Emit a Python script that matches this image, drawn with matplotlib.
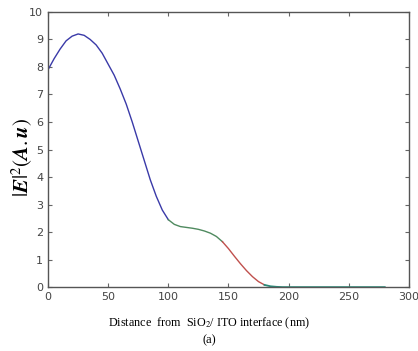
import numpy as np
import matplotlib.pyplot as plt

plt.rcParams['mathtext.fontset'] = 'stix'

# Field intensity profile, split in the coloured segments
x_blue = [0, 5, 10, 15, 20, 25, 30, 35, 40, 45, 50, 55, 60, 65, 70, 75, 80, 85, 90, 95, 100]
y_blue = [7.9, 8.3, 8.65, 8.95, 9.12, 9.2, 9.15, 9.0, 8.8, 8.5, 8.1, 7.7, 7.2, 6.65, 6.0, 5.3, 4.6, 3.9, 3.3, 2.8, 2.45]
x_green = [100, 105, 110, 115, 120, 125, 130, 135, 140, 145]
y_green = [2.45, 2.28, 2.2, 2.17, 2.14, 2.1, 2.04, 1.96, 1.84, 1.65]
x_red = [145, 150, 155, 160, 165, 170, 175, 180]
y_red = [1.65, 1.4, 1.12, 0.85, 0.6, 0.38, 0.2, 0.08]
x_teal = [180, 185, 190, 195, 200, 220, 240, 260, 280]
y_teal = [0.08, 0.03, 0.01, 0.0, 0.0, 0.0, 0.0, 0.0, 0.0]

fig = plt.figure(figsize=(4.18, 3.51), dpi=100)
ax = fig.add_axes([0.115, 0.182, 0.863, 0.784])

ax.plot(x_blue, y_blue, color='#3a3aa8', lw=1.0)
ax.plot(x_green, y_green, color='#4f8a5f', lw=1.0)
ax.plot(x_red, y_red, color='#c0504d', lw=1.0)
ax.plot(x_teal, y_teal, color='#2a8a78', lw=1.3)

ax.set_xlim(0, 300)
ax.set_ylim(0, 10)
ax.set_xticks(np.arange(0, 301, 50))
ax.set_yticks(np.arange(0, 11, 1))
ax.tick_params(direction='in', top=True, right=True, length=3, width=0.8,
               labelsize=8, colors='#666666', labelcolor='#444444')
for s in ax.spines.values():
    s.set_color('#555555')
    s.set_linewidth(1.0)

ax.set_ylabel(r'$|\boldsymbol{E}|^2(\boldsymbol{A.u})$', fontsize=15)
ax.yaxis.set_label_coords(-0.036, 0.47)

fig.text(0.5, 0.07, r'Distance  from  SiO$_2$/ ITO interface (nm)', ha='center',
         fontsize=8.7, family='Liberation Serif')
fig.text(0.5, 0.022, '(a)', ha='center', fontsize=9, family='Liberation Serif')

fig.savefig('out.png', dpi=100)
